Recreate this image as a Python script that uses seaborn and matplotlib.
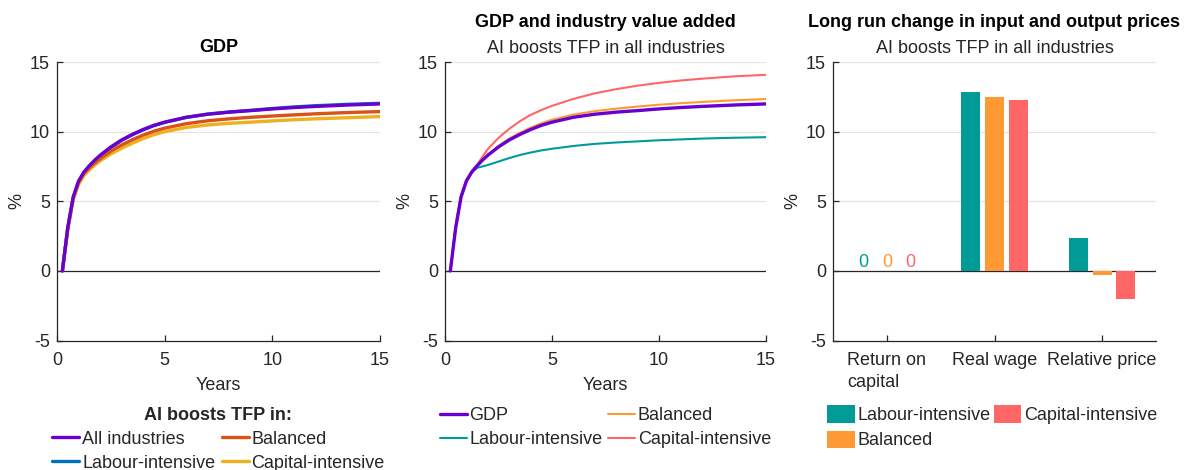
import numpy as np
import pandas as pd
import matplotlib
matplotlib.use("Agg")
import matplotlib.pyplot as plt
import seaborn as sns

# ---- data ----
years = [0.25, 0.5, 0.75, 1.0, 1.25, 1.5, 1.75, 2, 2.5, 3, 3.5, 4, 4.5, 5,
         6, 7, 8, 9, 10, 11, 12, 13.5, 15]

# panel 1: GDP when AI boosts TFP in ...
gdp_all = [0, 3.1, 5.3, 6.45, 7.1, 7.55, 7.95, 8.3, 8.9, 9.4, 9.8, 10.15, 10.45, 10.68,
           11.03, 11.25, 11.4, 11.51, 11.63, 11.73, 11.81, 11.91, 11.99]
gdp_labour = [0, 3.0, 5.15, 6.35, 7.0, 7.5, 7.9, 8.25, 8.85, 9.37, 9.78, 10.13, 10.43, 10.66,
              11.02, 11.26, 11.41, 11.53, 11.66, 11.77, 11.86, 11.96, 12.03]
gdp_balanced = [0, 3.1, 5.25, 6.35, 7.0, 7.4, 7.75, 8.05, 8.6, 9.04, 9.42, 9.75, 10.03, 10.25,
                10.57, 10.78, 10.92, 11.03, 11.12, 11.2, 11.28, 11.37, 11.44]
gdp_capital = [0, 3.0, 5.1, 6.2, 6.85, 7.25, 7.6, 7.9, 8.4, 8.8, 9.17, 9.5, 9.78, 10.0,
               10.3, 10.48, 10.6, 10.68, 10.77, 10.85, 10.92, 11.0, 11.08]

# panel 2: GDP and industry value added, AI boosts TFP in all industries
va_gdp = gdp_all
va_labour = [0, 3.1, 5.3, 6.45, 7.05, 7.4, 7.5, 7.6, 7.85, 8.1, 8.32, 8.5, 8.65, 8.77,
             8.97, 9.12, 9.22, 9.3, 9.38, 9.44, 9.5, 9.56, 9.6]
va_balanced = [0, 3.15, 5.35, 6.5, 7.12, 7.55, 7.97, 8.35, 8.97, 9.5, 9.92, 10.28, 10.6, 10.85,
               11.22, 11.47, 11.65, 11.8, 11.93, 12.04, 12.13, 12.25, 12.34]
va_capital = [0, 3.3, 5.45, 6.55, 7.15, 7.6, 8.2, 8.75, 9.55, 10.2, 10.75, 11.2, 11.55, 11.85,
              12.35, 12.75, 13.05, 13.3, 13.5, 13.67, 13.8, 13.97, 14.08]

# panel 3: long run change in input and output prices
price_cats = ["Return on\ncapital", "Real wage", "Relative price"]
price_labour = [0, 12.87, 2.35]
price_balanced = [0, 12.5, -0.31]
price_capital = [0, 12.3, -2.0]

c_purple = "#6A00D0"
c_blue = "#0072BD"
c_red = "#D95319"
c_yellow = "#EDB120"
c_teal = "#009B96"
c_orange = "#FF9933"
c_pink = "#FF6666"

sns.set_theme(style="white")
plt.rcParams["font.family"] = ["Liberation Sans", "DejaVu Sans"]
plt.rcParams["font.size"] = 13
plt.rcParams["axes.unicode_minus"] = False
FS = 13
TXT = "#262626"

fig = plt.figure(figsize=(11.86, 4.7), dpi=100)
W, H = 1186, 470


def make_ax(left, right, top=62, bottom=340.5):
    return fig.add_axes([left / W, (H - bottom) / H, (right - left) / W, (bottom - top) / H])


def style_ax(ax, xlim):
    ax.set_xlim(*xlim)
    ax.set_ylim(-5, 15)
    ax.set_yticks([-5, 0, 5, 10, 15])
    for y in [5, 10, 15]:
        ax.axhline(y, color="#e3e3e3", lw=0.9, zorder=0)
    ax.axhline(0, color="#262626", lw=0.9, zorder=1.5)
    for s in ["top", "right"]:
        ax.spines[s].set_visible(False)
    for s in ["left", "bottom"]:
        ax.spines[s].set_color("#262626")
        ax.spines[s].set_linewidth(0.9)
    ax.tick_params(direction="in", length=4, width=0.9, color="#262626",
                   labelsize=FS, labelcolor=TXT, pad=5, left=True, bottom=True)
    ax.tick_params(axis="x", pad=8)
    ax.set_ylabel("%", fontsize=FS, color=TXT, labelpad=3)


def long_df(series):
    frames = [pd.DataFrame({"year": years, "value": v, "series": k}) for k, v in series.items()]
    return pd.concat(frames, ignore_index=True)


# ---- panel 1 ----
ax1 = make_ax(57, 380)
df1 = long_df({"Labour-intensive": gdp_labour, "Balanced": gdp_balanced,
               "Capital-intensive": gdp_capital, "All industries": gdp_all})
pal1 = {"All industries": c_purple, "Labour-intensive": c_blue,
        "Balanced": c_red, "Capital-intensive": c_yellow}
for name in ["Labour-intensive", "Capital-intensive", "Balanced", "All industries"]:
    sns.lineplot(data=df1[df1.series == name], x="year", y="value", color=pal1[name],
                 lw=2.4, label=name, ax=ax1, zorder=3)
style_ax(ax1, (0, 15))
ax1.set_xticks([0, 5, 10, 15])
ax1.set_xlabel("Years", fontsize=FS, color=TXT, labelpad=6)
ax1.text(0.5, 1.051, "GDP", transform=ax1.transAxes, ha="center", va="center",
         fontsize=FS, fontweight="bold", color="black")
h, l = ax1.get_legend_handles_labels()
order = ["All industries", "Labour-intensive", "Balanced", "Capital-intensive"]
hd = dict(zip(l, h))
ax1.legend([hd[k] for k in order], order, ncol=2, loc="upper center",
           bbox_to_anchor=(0.5, -0.206), frameon=False, fontsize=FS,
           title="AI boosts TFP in:", title_fontproperties={"weight": "bold", "size": FS},
           handlelength=1.5, handletextpad=0.15, columnspacing=0.35,
           labelspacing=0.38, borderpad=0)

# ---- panel 2 ----
ax2 = make_ax(445, 766)
df2 = long_df({"Capital-intensive": va_capital, "Balanced": va_balanced,
               "Labour-intensive": va_labour, "GDP": va_gdp})
pal2 = {"GDP": c_purple, "Labour-intensive": c_teal, "Balanced": c_orange,
        "Capital-intensive": c_pink}
for name in ["Capital-intensive", "Balanced", "Labour-intensive", "GDP"]:
    sns.lineplot(data=df2[df2.series == name], x="year", y="value", color=pal2[name],
                 lw=2.4 if name == "GDP" else 1.5, label=name, ax=ax2, zorder=3)
style_ax(ax2, (0, 15))
ax2.set_xticks([0, 5, 10, 15])
ax2.set_xlabel("Years", fontsize=FS, color=TXT, labelpad=6)
ax2.text(0.5, 1.143, "GDP and industry value added", transform=ax2.transAxes,
         ha="center", va="center", fontsize=FS, fontweight="bold", color="black")
ax2.text(0.5, 1.047, "AI boosts TFP in all industries", transform=ax2.transAxes,
         ha="center", va="center", fontsize=FS, color=TXT)
h, l = ax2.get_legend_handles_labels()
order = ["GDP", "Labour-intensive", "Balanced", "Capital-intensive"]
hd = dict(zip(l, h))
ax2.legend([hd[k] for k in order], order, ncol=2, loc="upper left",
           bbox_to_anchor=(-0.045, -0.208), frameon=False, fontsize=FS,
           handlelength=1.5, handletextpad=0.15, columnspacing=0.3,
           labelspacing=0.38, borderpad=0)

# ---- panel 3 ----
ax3 = make_ax(833, 1156)
df3 = pd.concat([
    pd.DataFrame({"cat": price_cats, "value": price_labour, "series": "Labour-intensive"}),
    pd.DataFrame({"cat": price_cats, "value": price_balanced, "series": "Balanced"}),
    pd.DataFrame({"cat": price_cats, "value": price_capital, "series": "Capital-intensive"}),
], ignore_index=True)
pal3 = {"Labour-intensive": c_teal, "Balanced": c_orange, "Capital-intensive": c_pink}
sns.barplot(data=df3, x="cat", y="value", hue="series", palette=pal3, ax=ax3,
            width=0.66, gap=0.2, saturation=1, edgecolor="none", zorder=2)
style_ax(ax3, (-0.5, 2.5))
ax3.set_xlabel("")
for lbl in ax3.get_xticklabels():
    lbl.set_multialignment("left")
    lbl.set_linespacing(1.45)
# "0" labels for zero-height bars
for cont, name in zip(ax3.containers, pal3):
    for bar in cont:
        if bar.get_height() == 0:
            ax3.text(bar.get_x() + bar.get_width() / 2, 0.0, "0", ha="center", va="bottom",
                     fontsize=FS, color=pal3[name])
ax3.text(0.5, 1.143, "Long run change in input and output prices", transform=ax3.transAxes,
         ha="center", va="center", fontsize=FS, fontweight="bold", color="black")
ax3.text(0.5, 1.047, "AI boosts TFP in all industries", transform=ax3.transAxes,
         ha="center", va="center", fontsize=FS, color=TXT)
ax3.legend(ncol=2, loc="upper left", bbox_to_anchor=(-0.045, -0.2), frameon=False,
           fontsize=FS, handlelength=1.5, handleheight=1.1, handletextpad=0.15,
           columnspacing=0.2, labelspacing=0.36, borderpad=0)

fig.savefig("out.png", dpi=100)
